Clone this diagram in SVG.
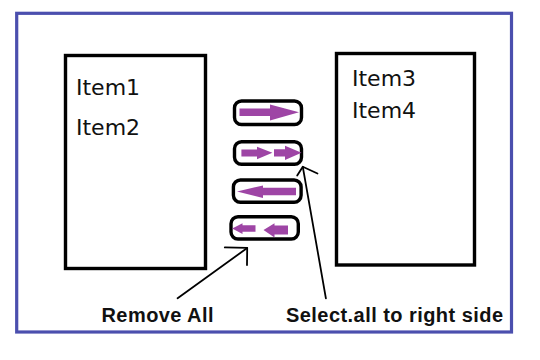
<svg xmlns="http://www.w3.org/2000/svg" width="540" height="360" viewBox="0 0 540 360">
  <style>
    .list { fill: #fff; stroke: #000; stroke-width: 3.4; }
    .btn { fill: #fff; stroke: #000; stroke-width: 3.4; }
    .arr { fill: #9e45a5; stroke: none; }
    .item { font-family: "DejaVu Sans", Verdana, sans-serif; font-size: 22px; fill: #111; }
    .lbl { font-family: "Liberation Sans", Arial, sans-serif; font-weight: bold; font-size: 20px; fill: #111; }
    .ann { fill: none; stroke: #000; stroke-width: 1.8; stroke-linecap: round; stroke-linejoin: round; }
  </style>
  <rect x="0" y="0" width="540" height="360" fill="#fff"/>
  <rect id="frame" x="16.7" y="13.3" width="494.8" height="318.7" fill="none" stroke="#4b4fae" stroke-width="3.2"/>

  <g id="left-list">
    <rect class="list" x="65.5" y="55.5" width="140" height="213"/>
    <text class="item" x="76" y="95">Item1</text>
    <text class="item" x="76" y="135">Item2</text>
  </g>

  <g id="right-list">
    <rect class="list" x="336.5" y="53.5" width="138" height="211.5"/>
    <text class="item" x="352" y="86">Item3</text>
    <text class="item" x="352" y="118">Item4</text>
  </g>

  <g id="btn-move-right">
    <rect class="btn" x="234.5" y="101" width="67" height="23.5" rx="7"/>
    <polygon class="arr" points="239.5,108.5 270,108.5 270,104.5 299,112.3 270,120.5 270,116 239.5,116"/>
  </g>

  <g id="btn-move-all-right">
    <rect class="btn" x="234.5" y="141.7" width="67" height="22.6" rx="7"/>
    <polygon class="arr" points="241.4,149.5 257,149.5 257,146.7 272.4,152.8 257,159.3 257,156.5 241.4,156.5"/>
    <polygon class="arr" points="274,149.2 285,149.2 285,145.8 301.5,152.8 285,160 285,156.5 274,156.5"/>
  </g>

  <g id="btn-move-left">
    <rect class="btn" x="233.4" y="180" width="67.7" height="22.3" rx="7"/>
    <polygon class="arr" points="237,191.5 263,185.5 263,187.8 296,187.8 296,195.3 263,195.3 263,198"/>
  </g>

  <g id="btn-remove-all">
    <rect class="btn" x="231" y="216.7" width="67.3" height="22.3" rx="7"/>
    <polygon class="arr" points="232.2,228.5 242.5,223.3 242.5,225.3 255.5,225.3 255.5,231.7 242.5,231.7 242.5,234"/>
    <polygon class="arr" points="263.5,230 274.5,223.3 274.5,225.5 288,225.5 288,234.5 274.5,234.5 274.5,237.5"/>
  </g>

  <g id="connectors">
    <path class="ann" d="M177.6,298.3 L247.2,248"/>
    <path class="ann" d="M224.8,247.4 L247.2,247.8 L247,265"/>
    <path class="ann" d="M325.9,298.3 L302.8,166.8"/>
    <path class="ann" d="M297.2,175.5 L302.8,166.8 L317.5,173.5"/>
  </g>

  <g id="labels">
    <text class="lbl" x="101.5" y="322" textLength="112" lengthAdjust="spacing">Remove All</text>
    <text class="lbl" x="286" y="321.5" textLength="217" lengthAdjust="spacing">Select.all to right side</text>
  </g>
</svg>
